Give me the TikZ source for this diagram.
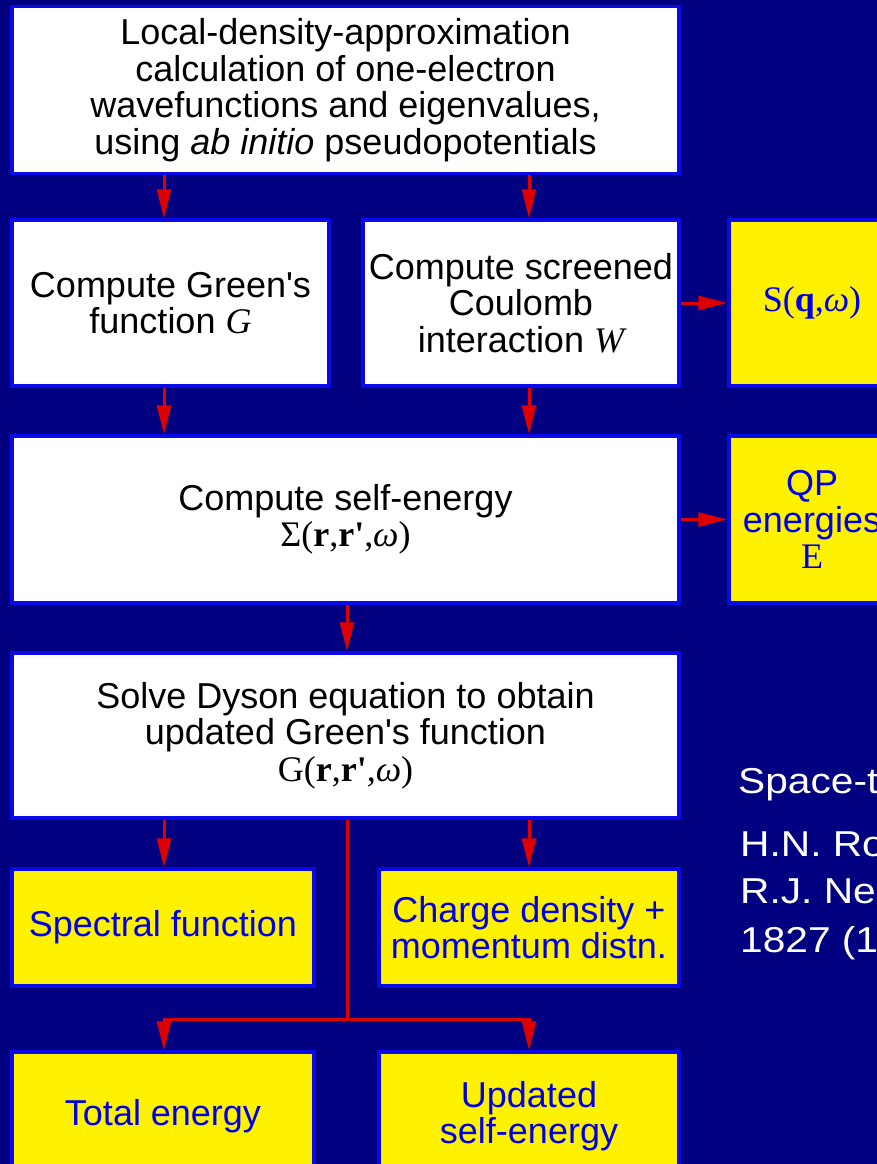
\documentclass[tikz,border=0pt]{standalone}
\usepackage{fontspec}
\setmainfont{Liberation Sans}
\newfontfamily\tms{Liberation Serif}
\newfontfamily\widesans[FakeStretch=1.13]{Liberation Sans}
\usetikzlibrary{arrows.meta}

\definecolor{navy}{RGB}{0,0,128}
\definecolor{edgeblue}{RGB}{10,10,232}
\definecolor{boxyellow}{RGB}{255,242,0}
\definecolor{textblue}{RGB}{0,0,230}
\definecolor{arrowred}{RGB}{221,0,0}

\tikzset{
  box/.style={draw=edgeblue, line width=3.5pt, inner sep=0pt, align=center,
    font=\fontsize{36}{36.5}\selectfont},
  whitebox/.style={box, fill=white, text=black},
  yellowbox/.style={box, fill=boxyellow, text=textblue},
  flow/.style={draw=arrowred, line width=3pt},
  arr/.style={flow, -{Triangle[length=29pt,width=14pt]}},
  note/.style={anchor=base west, text=white, inner sep=0pt,
    font=\widesans\fontsize{36}{36}\selectfont}
}

\begin{document}
\begin{tikzpicture}[x=1pt, y=-1pt]
  \fill[navy] (0,0) rectangle (877,1164);
  \useasboundingbox (0,0) rectangle (877,1164);

  % columns along which the vertical connectors run
  \coordinate (colL) at (164,0);
  \coordinate (colM) at (347,0);
  \coordinate (colR) at (529,0);
  \coordinate (fork) at (347,1019);

  % main flow
  \node[whitebox, minimum width=667pt, minimum height=167pt] (lda) at (345.5,90)
    {Local-density-approximation\\calculation of one-electron\\wavefunctions and eigenvalues,\\using \textit{ab initio} pseudopotentials};
  \node[whitebox, minimum width=317pt, minimum height=166pt] (green) at (170.5,303)
    {Compute Green\textquotesingle s\\function {\tms\itshape G}};
  \node[whitebox, minimum width=316pt, minimum height=166pt] (screen) at (521,303)
    {Compute screened\\Coulomb\\interaction {\tms\itshape W}};
  \node[whitebox, minimum width=667pt, minimum height=167pt] (sigma) at (345.5,519.5)
    {Compute self-energy\\{\tms Σ(\textbf{r},\textbf{r\textquotesingle},\textit{ω})}};
  \node[whitebox, minimum width=667pt, minimum height=165pt] (dyson) at (345.5,735.5)
    {Solve Dyson equation to obtain\\updated Green\textquotesingle s function\\{\tms G(\textbf{r},\textbf{r\textquotesingle},\textit{ω})}};

  % results
  \node[yellowbox, minimum width=166pt, minimum height=166pt] (sqw) at (812,303)
    {{\tms S(\textbf{q},\textit{ω})}};
  \node[yellowbox, minimum width=166pt, minimum height=167pt] (qp) at (812,519.5)
    {QP\\energies\\{\tms E}};
  \node[yellowbox, minimum width=302pt, minimum height=117pt] (spectral) at (163,927.5)
    {Spectral function};
  \node[yellowbox, minimum width=300pt, minimum height=117pt] (charge) at (529,927.5)
    {Charge density +\\momentum distn.};
  \node[yellowbox, minimum width=302pt, minimum height=128pt] (total) at (163,1116)
    {Total energy};
  \node[yellowbox, minimum width=300pt, minimum height=128pt] (updated) at (529,1116)
    {Updated\\self-energy};

  % connectors
  \draw[arr] (lda.south -| colL) -- (green.north -| colL);
  \draw[arr] (lda.south -| colR) -- (screen.north -| colR);
  \draw[arr] (green.south -| colL) -- (sigma.north -| colL);
  \draw[arr] (screen.south -| colR) -- (sigma.north -| colR);
  \draw[arr] (screen.east |- sqw.west) -- (sqw.west);
  \draw[arr] (sigma.east) -- (qp.west);
  \draw[arr] (sigma.south -| colM) -- (dyson.north -| colM);
  \draw[arr] (dyson.south -| colL) -- (spectral.north -| colL);
  \draw[arr] (dyson.south -| colR) -- (charge.north -| colR);
  \draw[flow] (dyson.south -| colM) -- (fork);
  \draw[arr] (fork) -| (total.north -| colL);
  \draw[arr] (fork) -| (updated.north -| colR);

  % reference note at the side
  \node[note] (ref1) at (738,793) {Space-t};
  \node[note] (ref2) at (740,856) {H.N. Ro};
  \node[note] (ref3) at (740,903) {R.J. Ne};
  \node[note] (ref4) at (740,952) {1827 (1};
\end{tikzpicture}
\end{document}
